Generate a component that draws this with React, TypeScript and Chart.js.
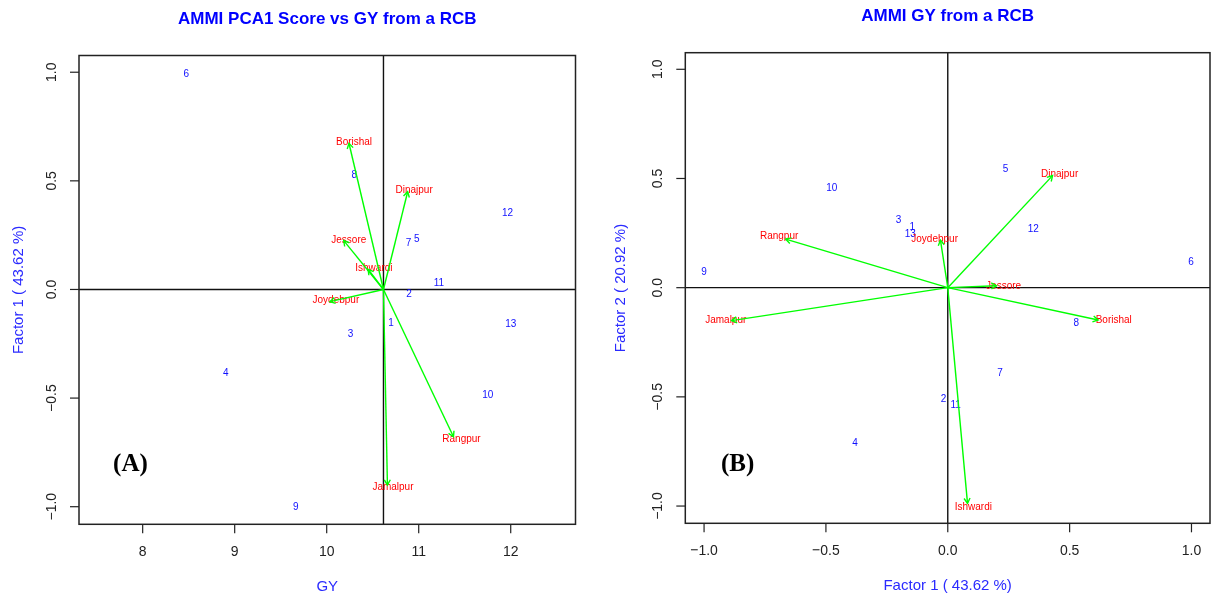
import React, { useEffect, useRef } from "react";
import { Chart, registerables } from "chart.js";

Chart.register(...registerables);

// ---------- shared ----------
const genotypes = ["1", "2", "3", "4", "5", "6", "7", "8", "9", "10", "11", "12", "13"];
const environments = ["Borishal", "Dinajpur", "Ishwardi", "Jamalpur", "Jessore", "Joydebpur", "Rangpur"];
const signedTicks = [-1, -0.5, 0, 0.5, 1];
const signedTickLabels = ["\u22121.0", "\u22120.5", "0.0", "0.5", "1.0"];

// ---------- panel A: PCA1 score vs GY ----------
const gyTicks = [8, 9, 10, 11, 12];
const gyTickLabels = ["8", "9", "10", "11", "12"];
const gyMean = 10.617;
const genoGY = [10.70, 10.896, 10.26, 8.903, 10.98, 8.475, 10.89, 10.30, 9.664, 11.75, 11.22, 11.965, 12.0];
const genoPC1A = [-0.151, -0.018, -0.202, -0.384, 0.234, 0.995, 0.217, 0.530, -1.001, -0.483, 0.029, 0.351, -0.157];
const envLabelGY = [10.297, 10.95, 10.513, 10.72, 10.24, 10.10, 11.465];
const envLabelPC1A = [0.680, 0.459, 0.100, -0.908, 0.228, -0.048, -0.685];
const envTipGY = [10.242, 10.88, 10.45, 10.66, 10.185, 10.035, 11.378];
const envTipPC1A = [0.673, 0.450, 0.093, -0.900, 0.225, -0.056, -0.678];

// ---------- panel B: PC1 vs PC2 ----------
const genoPC1B = [-0.146, -0.017, -0.2016, -0.381, 0.2366, 0.998, 0.214, 0.527, -1.0, -0.476, 0.032, 0.351, -0.154];
const genoPC2B = [0.279, -0.510, 0.311, -0.708, 0.5436, 0.119, -0.391, -0.160, 0.073, 0.457, -0.537, 0.270, 0.249];
const envLabelPC1B = [0.681, 0.459, 0.105, -0.911, 0.229, -0.054, -0.692];
const envLabelPC2B = [-0.148, 0.521, -1.003, -0.145, 0.009, 0.226, 0.237];
const envTipPC1B = [0.617, 0.430, 0.081, -0.887, 0.200, -0.030, -0.665];
const envTipPC2B = [-0.148, 0.513, -0.988, -0.151, 0.009, 0.218, 0.222];

const SANS = "'Liberation Sans', Arial, sans-serif";
const SERIF = "'Liberation Serif', 'Times New Roman', serif";

type PanelCfg = {
  left: number;
  width: number;
  padding: { left: number; right: number; top: number; bottom: number };
  xRange: [number, number];
  yRange: [number, number];
  refX: number;
  refY: number;
  xTicks: number[];
  xTickLabels: string[];
  yTicks: number[];
  yTickLabels: string[];
  title: string;
  titleY: number;
  xTitle: string;
  yTitle: string;
  yTitleOffset: number;
  letter: string;
  letterPos: [number, number];
  gx: number[];
  gy: number[];
  elx: number[];
  ely: number[];
  etx: number[];
  ety: number[];
};

function stretchedText(ctx: CanvasRenderingContext2D, text: string, x: number, y: number, sy: number) {
  ctx.save();
  ctx.translate(x, y);
  ctx.scale(1, sy);
  ctx.fillText(text, 0, 0);
  ctx.restore();
}

function makePlugin(cfg: PanelCfg) {
  return {
    id: "biplotDecor",
    beforeDatasetsDraw(chart: any) {
      const { ctx, chartArea: a, scales } = chart;
      const x = scales.x, y = scales.y;
      ctx.save();
      // reference lines
      ctx.strokeStyle = "#111";
      ctx.lineWidth = 1.4;
      const rx = x.getPixelForValue(cfg.refX);
      const ry = y.getPixelForValue(cfg.refY);
      ctx.beginPath();
      ctx.moveTo(rx, a.top);
      ctx.lineTo(rx, a.bottom);
      ctx.moveTo(a.left, ry);
      ctx.lineTo(a.right, ry);
      ctx.stroke();

      ctx.textAlign = "center";
      ctx.textBaseline = "middle";
      // genotype labels
      const gm = chart.getDatasetMeta(0);
      ctx.fillStyle = "#1010ff";
      ctx.font = `10px ${SANS}`;
      gm.data.forEach((pt: any, i: number) => stretchedText(ctx, genotypes[i], pt.x, pt.y, 1.18));
      // environment labels
      const em = chart.getDatasetMeta(1);
      ctx.fillStyle = "#ff0000";
      ctx.font = `10px ${SANS}`;
      em.data.forEach((pt: any, i: number) => stretchedText(ctx, environments[i], pt.x, pt.y, 1.18));
      ctx.restore();
    },
    afterDatasetsDraw(chart: any) {
      const { ctx, chartArea: a, scales } = chart;
      const x = scales.x, y = scales.y;
      ctx.save();
      // arrow heads
      ctx.strokeStyle = "#00ff00";
      ctx.lineWidth = 1.4;
      for (let k = 2; k < chart.data.datasets.length; k++) {
        const m = chart.getDatasetMeta(k);
        const p0 = m.data[0], p1 = m.data[1];
        const ang = Math.atan2(p1.y - p0.y, p1.x - p0.x);
        const L = 6, s = Math.PI / 6;
        ctx.beginPath();
        ctx.moveTo(p1.x - L * Math.cos(ang - s), p1.y - L * Math.sin(ang - s));
        ctx.lineTo(p1.x, p1.y);
        ctx.lineTo(p1.x - L * Math.cos(ang + s), p1.y - L * Math.sin(ang + s));
        ctx.stroke();
      }
      // box
      ctx.strokeStyle = "#222";
      ctx.lineWidth = 1.5;
      ctx.strokeRect(a.left, a.top, a.right - a.left, a.bottom - a.top);
      // ticks
      ctx.lineWidth = 1.2;
      ctx.fillStyle = "#222";
      ctx.font = `14px ${SANS}`;
      ctx.textAlign = "center";
      ctx.textBaseline = "middle";
      cfg.xTicks.forEach((v, i) => {
        const px = x.getPixelForValue(v);
        ctx.beginPath();
        ctx.moveTo(px, a.bottom);
        ctx.lineTo(px, a.bottom + 9);
        ctx.stroke();
        stretchedText(ctx, cfg.xTickLabels[i], px, a.bottom + 28, 1.08);
      });
      cfg.yTicks.forEach((v, i) => {
        const py = y.getPixelForValue(v);
        ctx.beginPath();
        ctx.moveTo(a.left - 9, py);
        ctx.lineTo(a.left, py);
        ctx.stroke();
        ctx.save();
        ctx.translate(a.left - 27, py);
        ctx.rotate(-Math.PI / 2);
        ctx.fillText(cfg.yTickLabels[i], 0, 0);
        ctx.restore();
      });
      // axis titles
      const cx = (a.left + a.right) / 2;
      const cy = (a.top + a.bottom) / 2;
      ctx.fillStyle = "#2a2aff";
      ctx.font = `15px ${SANS}`;
      ctx.fillText(cfg.xTitle, cx, a.bottom + 63);
      ctx.save();
      ctx.translate(a.left - cfg.yTitleOffset, cy);
      ctx.rotate(-Math.PI / 2);
      ctx.fillText(cfg.yTitle, 0, 0);
      ctx.restore();
      // main title
      ctx.fillStyle = "#0000ff";
      ctx.font = `bold 17px ${SANS}`;
      ctx.fillText(cfg.title, cx, cfg.titleY);
      // panel letter
      ctx.fillStyle = "#000";
      ctx.font = `bold 25px ${SERIF}`;
      ctx.fillText(cfg.letter, x.getPixelForValue(cfg.letterPos[0]), y.getPixelForValue(cfg.letterPos[1]));
      ctx.restore();
    },
  };
}

function Panel({ cfg }: { cfg: PanelCfg }) {
  const ref = useRef<HTMLCanvasElement | null>(null);
  useEffect(() => {
    if (!ref.current) return;
    const origin = { x: cfg.refX, y: cfg.refY };
    const datasets: any[] = [
      {
        label: "genotypes",
        data: cfg.gx.map((v, i) => ({ x: v, y: cfg.gy[i] })),
        pointRadius: 0,
        showLine: false,
      },
      {
        label: "environments",
        data: cfg.elx.map((v, i) => ({ x: v, y: cfg.ely[i] })),
        pointRadius: 0,
        showLine: false,
      },
      ...environments.map((name, i) => ({
        label: name,
        data: [origin, { x: cfg.etx[i], y: cfg.ety[i] }],
        showLine: true,
        borderColor: "#00ff00",
        borderWidth: 1.4,
        pointRadius: 0,
        fill: false,
      })),
    ];
    const chart = new Chart(ref.current, {
      type: "scatter",
      data: { datasets },
      options: {
        responsive: false,
        animation: false,
        devicePixelRatio: 1,
        layout: { padding: cfg.padding },
        scales: {
          x: { type: "linear", display: false, min: cfg.xRange[0], max: cfg.xRange[1] },
          y: { type: "linear", display: false, min: cfg.yRange[0], max: cfg.yRange[1] },
        },
        plugins: { legend: { display: false }, tooltip: { enabled: false }, title: { display: false } },
      },
      plugins: [makePlugin(cfg)],
    } as any);
    return () => chart.destroy();
  }, [cfg]);
  return (
    <canvas
      ref={ref}
      width={cfg.width}
      height={596}
      style={{ position: "absolute", left: cfg.left, top: 0, width: cfg.width, height: 596 }}
    />
  );
}

const panelA: PanelCfg = {
  left: 0,
  width: 605,
  padding: { left: 79, right: 29.5, top: 55.5, bottom: 71.7 },
  xRange: [7.308, 12.704],
  yRange: [-1.081, 1.077],
  refX: gyMean,
  refY: 0,
  xTicks: gyTicks,
  xTickLabels: gyTickLabels,
  yTicks: signedTicks,
  yTickLabels: signedTickLabels,
  title: "AMMI PCA1 Score vs GY from a RCB",
  titleY: 19,
  xTitle: "GY",
  yTitle: "Factor 1 ( 43.62 %)",
  yTitleOffset: 60,
  letter: "(A)",
  letterPos: [7.867, -0.808],
  gx: genoGY,
  gy: genoPC1A,
  elx: envLabelGY,
  ely: envLabelPC1A,
  etx: envTipGY,
  ety: envTipPC1A,
};

const panelB: PanelCfg = {
  left: 605,
  width: 606,
  padding: { left: 80.3, right: 1, top: 52.7, bottom: 72.7 },
  xRange: [-1.077, 1.076],
  yRange: [-1.079, 1.076],
  refX: 0,
  refY: 0,
  xTicks: signedTicks,
  xTickLabels: signedTickLabels,
  yTicks: signedTicks,
  yTickLabels: signedTickLabels,
  title: "AMMI GY from a RCB",
  titleY: 16,
  xTitle: "Factor 1 ( 43.62 %)",
  yTitle: "Factor 2 ( 20.92 %)",
  yTitleOffset: 64,
  letter: "(B)",
  letterPos: [-0.862, -0.812],
  gx: genoPC1B,
  gy: genoPC2B,
  elx: envLabelPC1B,
  ely: envLabelPC2B,
  etx: envTipPC1B,
  ety: envTipPC2B,
};

export default function App() {
  return (
    <div style={{ position: "absolute", left: 0, top: 0, width: 1211, height: 596, background: "#fff", overflow: "hidden" }}>
      <Panel cfg={panelA} />
      <Panel cfg={panelB} />
    </div>
  );
}
